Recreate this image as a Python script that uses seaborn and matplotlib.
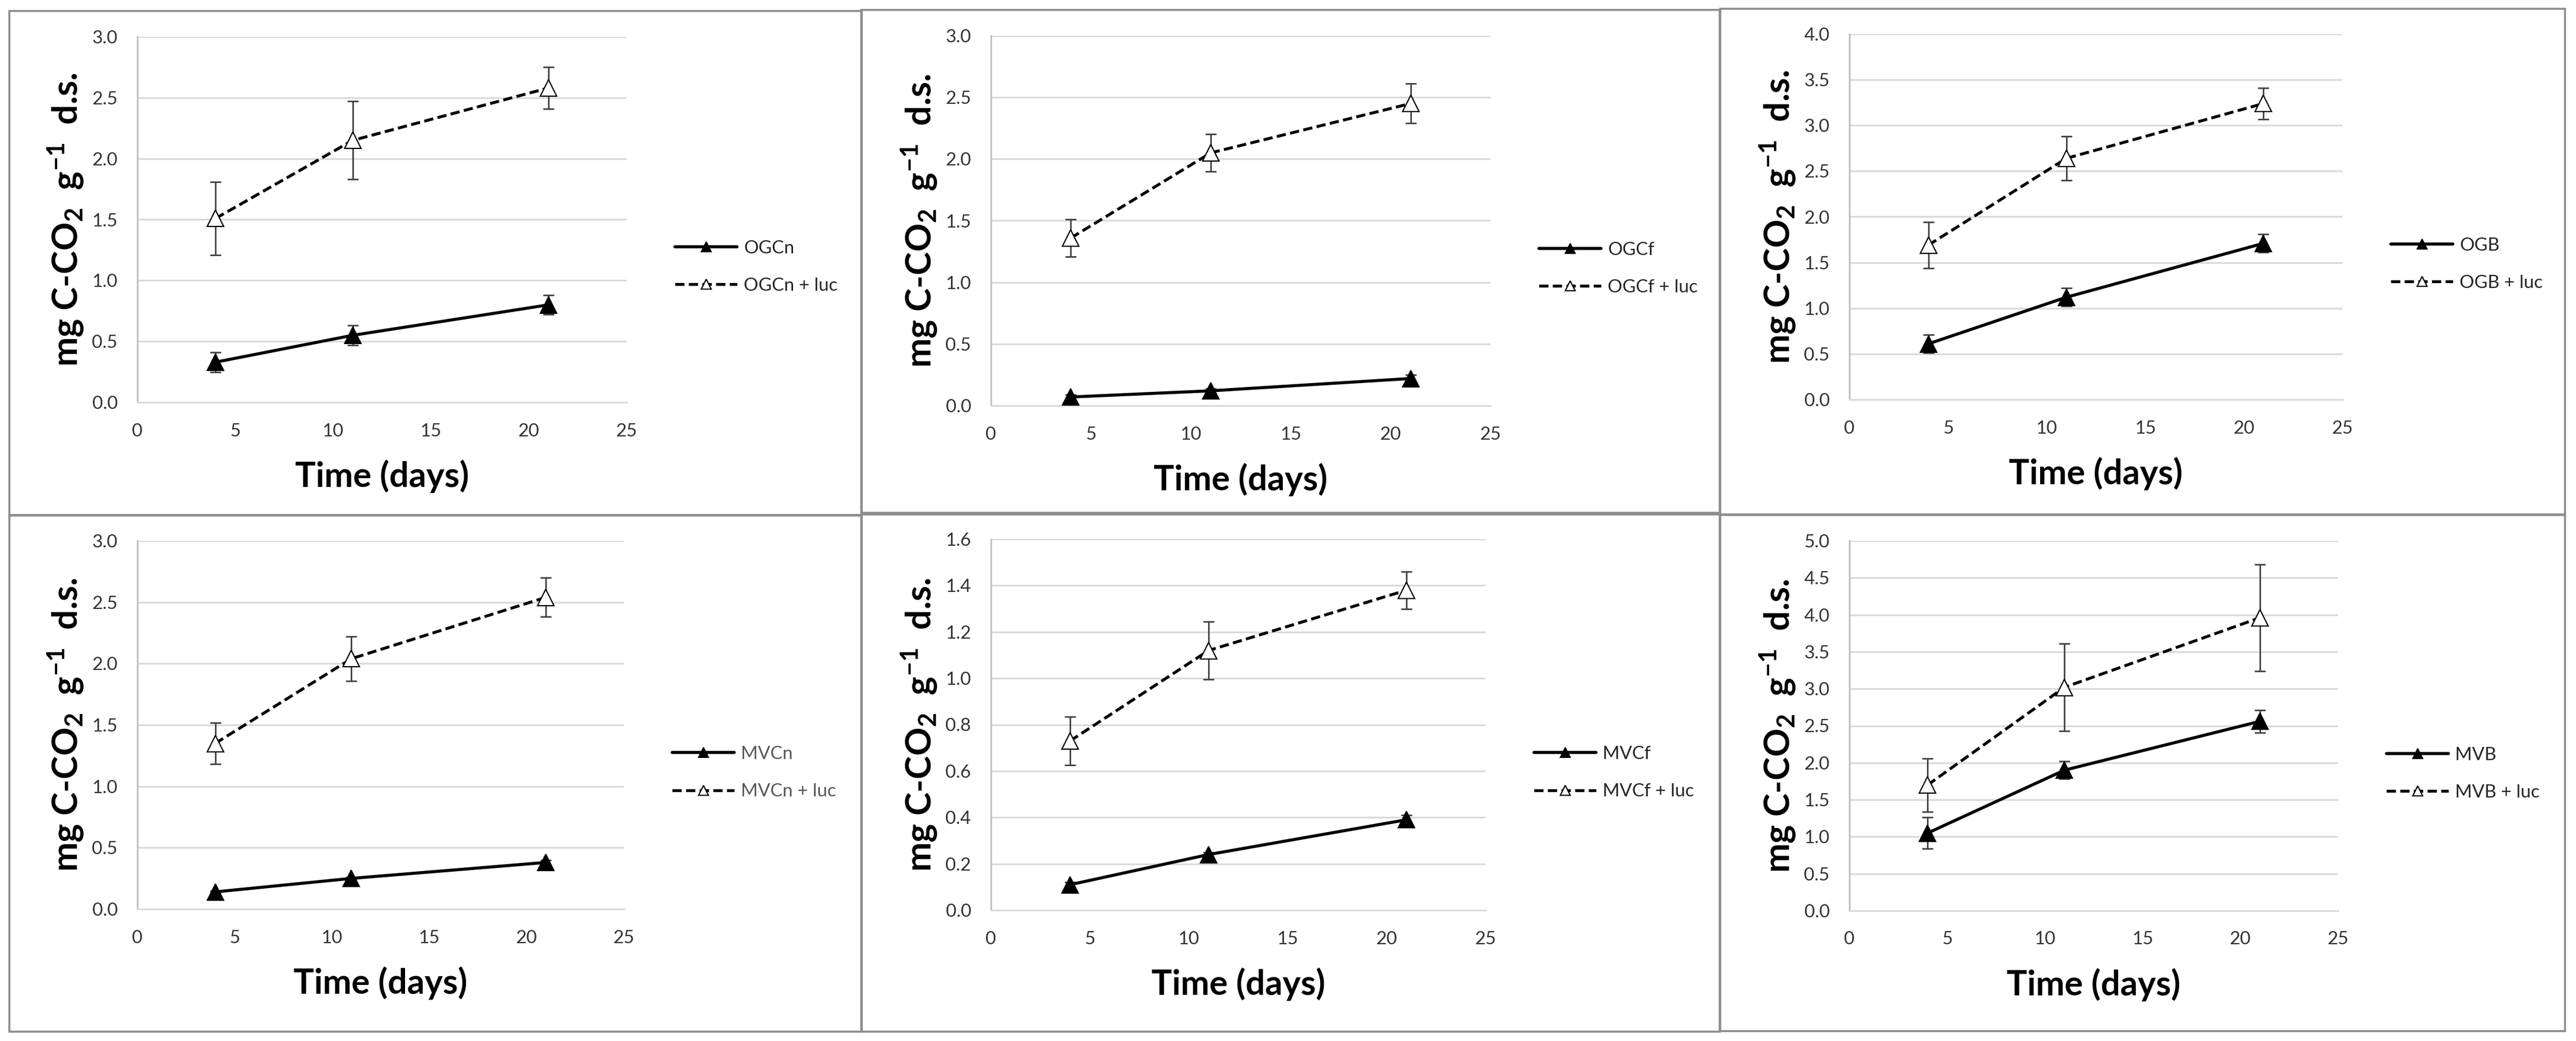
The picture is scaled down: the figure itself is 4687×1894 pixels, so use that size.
import matplotlib
matplotlib.use("Agg")
import matplotlib.pyplot as plt
from matplotlib.patches import Rectangle
import seaborn as sns

# ---- data ----
days = [4, 11, 21]

ogcn = [0.33, 0.55, 0.80]
ogcn_err = [0.08, 0.08, 0.08]
ogcn_luc = [1.51, 2.15, 2.58]
ogcn_luc_err = [0.30, 0.32, 0.17]

ogcf = [0.07, 0.12, 0.22]
ogcf_err = [0.02, 0.02, 0.03]
ogcf_luc = [1.36, 2.05, 2.45]
ogcf_luc_err = [0.15, 0.15, 0.16]

ogb = [0.61, 1.12, 1.71]
ogb_err = [0.10, 0.10, 0.10]
ogb_luc = [1.69, 2.64, 3.24]
ogb_luc_err = [0.25, 0.24, 0.17]

mvcn = [0.14, 0.25, 0.38]
mvcn_err = [0.01, 0.01, 0.02]
mvcn_luc = [1.35, 2.04, 2.54]
mvcn_luc_err = [0.17, 0.18, 0.16]

mvcf = [0.11, 0.24, 0.39]
mvcf_err = [0.01, 0.01, 0.02]
mvcf_luc = [0.73, 1.12, 1.38]
mvcf_luc_err = [0.105, 0.125, 0.08]

mvb = [1.05, 1.90, 2.56]
mvb_err = [0.21, 0.12, 0.15]
mvb_luc = [1.70, 3.02, 3.96]
mvb_luc_err = [0.36, 0.59, 0.72]

names = ["OGCn", "OGCf", "OGB", "MVCn", "MVCf", "MVB"]
base_vals = [ogcn, ogcf, ogb, mvcn, mvcf, mvb]
base_errs = [ogcn_err, ogcf_err, ogb_err, mvcn_err, mvcf_err, mvb_err]
luc_vals = [ogcn_luc, ogcf_luc, ogb_luc, mvcn_luc, mvcf_luc, mvb_luc]
luc_errs = [ogcn_luc_err, ogcf_luc_err, ogb_luc_err, mvcn_luc_err, mvcf_luc_err, mvb_luc_err]
y_max = [3.0, 3.0, 4.0, 3.0, 1.6, 5.0]
y_step = [0.5, 0.5, 0.5, 0.5, 0.2, 0.5]
x_ticks = [0, 5, 10, 15, 20, 25]

# ---- style ----
sns.set_theme(style="white")
plt.rcParams["font.family"] = ["Lato", "DejaVu Sans"]
plt.rcParams["mathtext.fontset"] = "custom"
plt.rcParams["mathtext.rm"] = "Lato"
plt.rcParams["mathtext.bf"] = "Lato:bold"
plt.rcParams["mathtext.default"] = "bf"

W, H = 4687, 1894
fig = plt.figure(figsize=(W / 100, H / 100), dpi=100)
fig.patch.set_facecolor("white")

# axes boxes in pixels: x0, x1, ytop, ybottom
ax_boxes = [
    (250, 1140, 67, 732), (1803, 2712, 65, 738), (3365, 4262, 62, 727),
    (250, 1135, 984, 1654), (1803, 2703, 981, 1656), (3365, 4254, 984, 1657),
]
# panel frames in pixels: x0, x1, ytop, ybottom
frames = [
    (17, 1568, 20, 937), (1567, 3129, 18, 933), (3130, 4667, 16, 936),
    (17, 1568, 938, 1877), (1567, 3129, 936, 1877), (3130, 4667, 937, 1876),
]

for fx0, fx1, fy0, fy1 in frames:
    fig.add_artist(Rectangle((fx0 / W, 1 - fy1 / H), (fx1 - fx0) / W, (fy1 - fy0) / H,
                             transform=fig.transFigure, fill=False,
                             edgecolor="#8c8c8c", linewidth=2.6))

dash = (0, (3.2, 1.5))

for i, name in enumerate(names):
    x0, x1, yt, yb = ax_boxes[i]
    ax = fig.add_axes([x0 / W, 1 - yb / H, (x1 - x0) / W, (yb - yt) / H])
    ax.set_facecolor("white")

    ax.errorbar(days, base_vals[i], yerr=base_errs[i], fmt="none", ecolor="#404040",
                elinewidth=2, capsize=7, capthick=2, zorder=2)
    ax.errorbar(days, luc_vals[i], yerr=luc_errs[i], fmt="none", ecolor="#404040",
                elinewidth=2, capsize=7, capthick=2, zorder=2)

    sns.lineplot(x=days, y=base_vals[i], ax=ax, color="black", linewidth=4,
                 marker="^", markersize=22, markerfacecolor="black",
                 markeredgecolor="black", markeredgewidth=1.5,
                 label=name, legend=False, zorder=3)
    sns.lineplot(x=days, y=luc_vals[i], ax=ax, color="black", linewidth=3.8,
                 linestyle=dash, marker="^", markersize=21, markerfacecolor="white",
                 markeredgecolor="black", markeredgewidth=1.6,
                 label=name + " + luc", legend=False, zorder=3)

    ax.set_xlim(0, 25)
    ax.set_ylim(0, y_max[i])
    ax.set_xticks(x_ticks)
    n = int(round(y_max[i] / y_step[i]))
    yt_vals = [round(k * y_step[i], 2) for k in range(n + 1)]
    ax.set_yticks(yt_vals)
    ax.set_yticklabels([f"{v:.1f}" for v in yt_vals])
    ax.grid(axis="y", color="#d9d9d9", linewidth=2.2)
    ax.grid(axis="x", visible=False)
    ax.set_axisbelow(True)
    for s in ["top", "right"]:
        ax.spines[s].set_visible(False)
    ax.spines["left"].set_color("#bfbfbf")
    ax.spines["left"].set_linewidth(2.2)
    ax.spines["bottom"].set_color("#d9d9d9")
    ax.spines["bottom"].set_linewidth(2.2)
    ax.tick_params(axis="x", length=0, pad=27, labelsize=24, labelcolor="#333333")
    ax.tick_params(axis="y", length=0, pad=26, labelsize=24, labelcolor="#333333")

    w_px, h_px = x1 - x0, yb - yt
    ax.set_xlabel("Time (days)", fontsize=45, fontweight="bold", color="black")
    ax.xaxis.set_label_coords(0.5, -135 / h_px)
    ax.xaxis.label.set_va("center")
    ax.set_ylabel(r"mg C-CO$_2$  g$^{-1}$  d.s.", fontsize=46, fontweight="bold", color="black")
    ax.yaxis.set_label_coords(-130 / w_px, 0.5)
    ax.yaxis.label.set_va("center")

    leg_color = "#595959" if name == "MVCn" else "#262626"
    leg = ax.legend(loc="center left", bbox_to_anchor=((w_px + 88) / w_px, 0.37),
                    frameon=False, fontsize=24, handlelength=3.4, handletextpad=0.35,
                    labelspacing=1.15, borderpad=0, borderaxespad=0, markerscale=0.6)
    for t in leg.get_texts():
        t.set_color(leg_color)

fig.savefig("out.png", dpi=100, facecolor="white")
